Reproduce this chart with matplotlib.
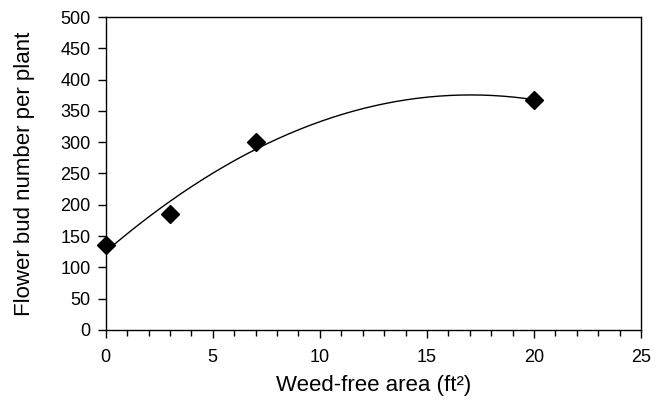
import matplotlib
matplotlib.use('Agg')
import matplotlib.pyplot as plt
import numpy as np
from matplotlib.ticker import MultipleLocator

# weed-free area (ft^2) and flower buds per plant
area = [0, 3, 7, 20]
buds = [135, 185, 300, 367]
x_ticks = [0, 5, 10, 15, 20, 25]
y_ticks = [0, 50, 100, 150, 200, 250, 300, 350, 400, 450, 500]

plt.rcParams['font.family'] = ['Liberation Sans', 'DejaVu Sans']

fig = plt.figure(figsize=(6.65, 4.15), dpi=100)
ax = fig.add_axes([0.159, 0.205, 0.805, 0.754])

# second order trendline, as the spreadsheet would draw it
coef = np.polyfit(area, buds, 2)
xs = np.linspace(min(area), max(area), 200)
ax.plot(xs, np.polyval(coef, xs), color='black', lw=1)
ax.plot(area, buds, 'D', color='black', markersize=9, zorder=3, clip_on=False)

ax.set_xlim(0, 25)
ax.set_ylim(0, 500)
ax.set_xticks(x_ticks)
ax.set_yticks(y_ticks)
ax.xaxis.set_minor_locator(MultipleLocator(1))
ax.tick_params(axis='both', which='major', direction='out', length=6, width=1,
               labelsize=13, colors='black')
ax.tick_params(axis='x', which='minor', direction='out', length=4, width=1)
ax.tick_params(axis='x', pad=8)
ax.tick_params(axis='y', pad=5)
for sp in ax.spines.values():
    sp.set_linewidth(1)

ax.set_xlabel('Weed-free area (ft\u00b2)', fontsize=16, labelpad=6)
ax.set_ylabel('Flower bud number per plant', fontsize=16, labelpad=18)

fig.savefig('out.png', dpi=100)
